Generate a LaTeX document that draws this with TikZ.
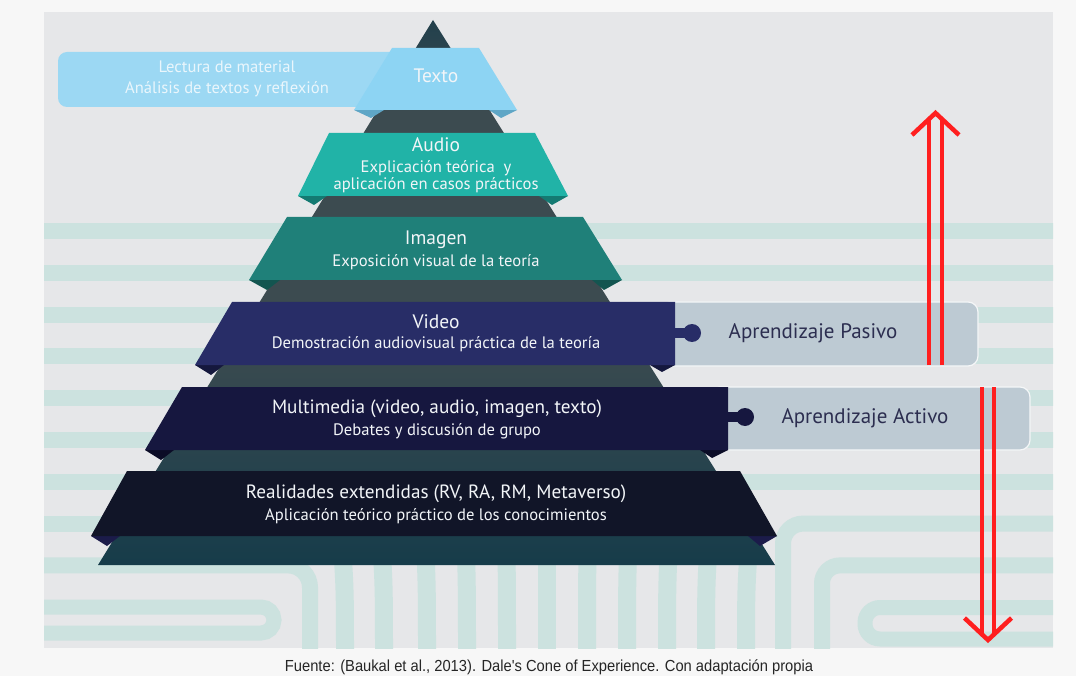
\documentclass[tikz,border=0pt]{standalone}
\usepackage{fontspec}
\setmainfont{PT Sans}
\newfontfamily\capfont[FakeStretch=0.92]{Liberation Sans}
\usetikzlibrary{calc}
\definecolor{pagebg}{HTML}{F7F7F7}
\definecolor{panel}{HTML}{E6E7E9}
\definecolor{stripe}{HTML}{CCE2DF}
\definecolor{textoC}{HTML}{8DD4F3}
\definecolor{textoL}{HTML}{9CD8F3}
\definecolor{textoF}{HTML}{5FA6C6}
\definecolor{audioC}{HTML}{21B3A7}
\definecolor{audioF}{HTML}{147A72}
\definecolor{imagenC}{HTML}{1F8079}
\definecolor{imagenF}{HTML}{135550}
\definecolor{videoC}{HTML}{282D67}
\definecolor{videoF}{HTML}{15183D}
\definecolor{multiC}{HTML}{16173F}
\definecolor{multiF}{HTML}{0B0C26}
\definecolor{realC}{HTML}{111528}
\definecolor{realF}{HTML}{1B1B4A}
\definecolor{coneA}{HTML}{22404C}
\definecolor{coneB}{HTML}{3C4B50}
\definecolor{coneC}{HTML}{163C4A}
\definecolor{boxC}{HTML}{BDCAD3}
\definecolor{boxT}{HTML}{2C2E50}
\definecolor{arrowR}{HTML}{FF1F1F}
\definecolor{bandT}{HTML}{F2F5F8}
\definecolor{lectT}{HTML}{EAF6FC}
\tikzset{
  stripeline/.style={draw=stripe, line width=16},
  vstripe/.style={draw=stripe, line width=18},
  title/.style={anchor=base, text=bandT, font=\fontsize{19.5}{20}\selectfont, inner sep=0},
  subt/.style={anchor=base, text=bandT, font=\fontsize{16.6}{17}\selectfont, inner sep=0},
  bigt/.style={anchor=base, text=bandT, font=\fontsize{19.2}{20}\selectfont, inner sep=0},
  lect/.style={anchor=base, text=lectT, font=\fontsize{16.6}{17}\selectfont, inner sep=0},
  learn/.style={anchor=base, text=boxT, font=\fontsize{21}{22}\selectfont, inner sep=0},
  graybox/.style={fill=boxC, draw=white!85!boxC, line width=1.2, rounded corners=10},
  redline/.style={draw=arrowR, line width=3.8},
  redhead/.style={draw=arrowR, line width=4.5, miter limit=10},
}
\begin{document}
\begin{tikzpicture}[x=1pt,y=-1pt]
\useasboundingbox (0,0) rectangle (1076,676);
\fill[pagebg] (0,0) rectangle (1076,676);
\fill[panel] (44,12) rectangle (1053,648);
% background stripes
\begin{scope}
\clip (44,12) rectangle (1053,648);
\foreach \y in {231,272.8,314.6,356.4,398.2,440,481.8}{
  \draw[stripeline] (30,\y) -- (1070,\y);
}
\draw[stripeline] (30,523.6) -- (420,523.6);
\draw[stripeline, rounded corners=20] (1070,523.6) -- (783,523.6) -- (783,660);
\draw[stripeline, rounded corners=22] (30,565.4) -- (310,565.4) -- (310,660);
\draw[stripeline, rounded corners=18] (1070,565.4) -- (822,565.4) -- (822,660);
\draw[stripe, line width=15, rounded corners=13] (30,607) -- (274,607) -- (274,633) -- (30,633);
\draw[stripe, line width=15, rounded corners=15] (1070,607.5) -- (865,607.5) -- (865,639) -- (1070,639);
\foreach \x/\d in {345/-5,384/-4,427/-3,467/-2,507/-1,547/0,587/1,627/2,667/3,706/4,746/5}{
  \draw[vstripe] (\x+\d,520) .. controls (\x,585) .. (\x,660);
}
\end{scope}
% cone
\begin{scope}
\clip (433,20) -- (775,565) -- (98,565) -- cycle;
\shade[top color=coneA, bottom color=coneB] (90,19) rectangle (780,112);
\fill[coneB] (90,111) rectangle (780,341);
\shade[top color=coneB, bottom color=coneC] (90,340) rectangle (780,566);
\end{scope}
% gray boxes
\draw[graybox] (660,302) rectangle (978,366);
\draw[graybox] (710,387) rectangle (1030,450);
% Texto band
\fill[textoL, rounded corners=9] (58,52) rectangle (430,107);
\fill[textoF] (354,110) -- (371,118) -- (384,110) -- cycle;
\fill[textoF] (517,110) -- (501,118) -- (489,110) -- cycle;
\fill[textoC] (392,48) -- (479,48) -- (517,110) -- (354,110) -- cycle;
% Audio band
\fill[audioF] (298,196) -- (314,205) -- (327,196) -- cycle;
\fill[audioF] (568,196) -- (552,205) -- (539,196) -- cycle;
\fill[audioC] (329,133) -- (535,133) -- (568,196) -- (298,196) -- cycle;
% Imagen band
\fill[imagenF] (249,280) -- (267,290) -- (280,280) -- cycle;
\fill[imagenF] (622,280) -- (604,290) -- (592,280) -- cycle;
\fill[imagenC] (287,217) -- (583,217) -- (622,280) -- (249,280) -- cycle;
% Video band
\fill[videoF] (195,365) -- (211,375) -- (224,365) -- cycle;
\fill[videoF] (675,365) -- (662,372) -- (650,365) -- cycle;
\fill[videoC] (232,302) -- (675,302) -- (675,365) -- (195,365) -- cycle;
\fill[videoC] (670,328) rectangle (688,338);
\fill[videoC] (692,333) circle (9);
% Multimedia band
\fill[multiF] (145,450) -- (161,460) -- (174,450) -- cycle;
\fill[multiF] (728,450) -- (712,458) -- (700,450) -- cycle;
\fill[multiC] (182,387) -- (728,387) -- (728,450) -- (145,450) -- cycle;
\fill[multiC] (723,412) rectangle (741,422);
\fill[multiC] (745,417) circle (9);
% Realidades band
\fill[realF] (91,536) -- (107,546) -- (120,536) -- cycle;
\fill[realF] (777,536) -- (760,546) -- (748,536) -- cycle;
\fill[realC] (127,471) -- (740,471) -- (777,536) -- (91,536) -- cycle;
% texts
\node[lect] (lect1) at (227,73) {Lectura de material};
\node[lect] (lect2) at (227,94) {Análisis de textos y reflexión};
\node[title] (texto) at (436,83) {Texto};
\node[title] (audio) at (436,152) {Audio};
\node[subt] (audio1) at (436,173) {Explicación teórica \ y};
\node[subt] (audio2) at (436,190) {aplicación en casos prácticos};
\node[title] (imagen) at (436,245) {Imagen};
\node[subt] (imagen1) at (436,267) {Exposición visual de la teoría};
\node[title] (video) at (436,328) {Video};
\node[subt] (video1) at (436,348) {Demostración audiovisual práctica de la teoría};
\node[bigt] (multi) at (437,413) {Multimedia (video, audio, imagen, texto)};
\node[subt] (multi1) at (437,435) {Debates y discusión de grupo};
\node[bigt] (real) at (436,498) {Realidades extendidas (RV, RA, RM, Metaverso)};
\node[subt] (real1) at (436,520) {Aplicación teórico práctico de los conocimientos};
\node[learn] (pasivo) at (813,338) {Aprendizaje Pasivo};
\node[learn] (activo) at (865,423) {Aprendizaje Activo};
% red arrows
\coordinate (upS) at (935.5,365);
\coordinate (upT) at (935.5,120);
\coordinate (upTip) at (935.5,113);
\coordinate (dnS) at (988,387);
\coordinate (dnT) at (988,634);
\coordinate (dnTip) at (988,640);
\draw[redline] ([xshift=-6.5]upS) -- ([xshift=-6.5]upT);
\draw[redline] ([xshift=6.5]upS) -- ([xshift=6.5]upT);
\draw[redhead] ([xshift=-23.5,yshift=-22]upTip) -- (upTip) -- ([xshift=23.5,yshift=-22]upTip);
\draw[redline] ([xshift=-6]dnS) -- ([xshift=-6]dnT);
\draw[redline] ([xshift=6]dnS) -- ([xshift=6]dnT);
\draw[redhead] ([xshift=-23.5,yshift=22]dnTip) -- (dnTip) -- ([xshift=23.5,yshift=22]dnTip);
% caption
\node[anchor=base, inner sep=0, text=black!85, font=\capfont\fontsize{16}{17}\selectfont] (cap) at (549,671.5) {Fuente: (Baukal et al., 2013). Dale's Cone of Experience. Con adaptación propia};
\end{tikzpicture}
\end{document}
